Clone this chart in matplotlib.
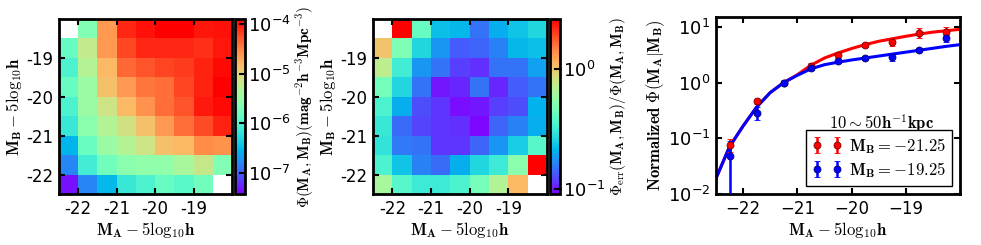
import numpy as np
import matplotlib
matplotlib.use('Agg')
import matplotlib.pyplot as plt
from matplotlib.colors import LogNorm
from matplotlib.ticker import FixedLocator, FixedFormatter, NullLocator

plt.rcParams['mathtext.fontset'] = 'cm'
plt.rcParams['axes.unicode_minus'] = False
plt.rcParams['font.family'] = 'DejaVu Sans'
plt.rcParams['font.size'] = 12

# ---------------- data ----------------
ma_centers = [-22.25, -21.75, -21.25, -20.75, -20.25, -19.75, -19.25, -18.75, -18.25]
mb_centers = [-18.25, -18.75, -19.25, -19.75, -20.25, -20.75, -21.25, -21.75, -22.25]  # rows top -> bottom
bin_half = 0.25

# log10 Phi(MA, MB) [mag^-2 h^-3 Mpc^-3]; NaN = empty bin
log_phi = [
    [np.nan, -5.66, -4.62, -4.08, -3.98, -3.88, -3.91, -4.01, -3.98],
    [-5.84, -5.20, -4.62, -4.22, -4.08, -4.08, -4.08, -4.12, -4.01],
    [-6.01, -5.31, -4.82, -4.38, -4.28, -4.21, -4.17, -4.06, -3.95],
    [-5.84, -5.48, -4.86, -4.62, -4.44, -4.40, -4.21, -4.06, -3.86],
    [-6.01, -5.48, -5.13, -4.82, -4.60, -4.40, -4.28, -4.02, -3.95],
    [-6.15, -5.59, -5.31, -5.10, -4.86, -4.62, -4.40, -4.24, -4.06],
    [-6.54, -5.80, -5.48, -5.31, -5.13, -4.86, -4.82, -4.55, -4.60],
    [-6.79, -6.08, -5.77, -5.59, -5.55, -5.55, -5.38, -5.17, -5.66],
    [-7.35, -6.79, -6.50, -6.15, -6.01, -5.84, -5.91, -5.77, np.nan],
]

# log10 of relative error Phi_err / Phi
log_rel_err = [
    [np.nan, 0.416, -0.386, -0.648, -0.663, -0.823, -0.692, -0.634, -0.575],
    [0.008, -0.313, -0.575, -0.750, -0.867, -0.852, -0.794, -0.663, -0.648],
    [-0.138, -0.488, -0.750, -0.823, -0.925, -0.955, -0.823, -0.823, -0.721],
    [-0.342, -0.575, -0.823, -0.998, -0.969, -0.823, -0.969, -0.867, -0.823],
    [-0.459, -0.692, -0.896, -0.940, -1.013, -0.998, -0.925, -0.896, -0.677],
    [-0.517, -0.838, -0.911, -0.940, -0.955, -1.027, -0.852, -0.794, -0.692],
    [-0.532, -0.809, -0.823, -0.940, -0.940, -0.852, -0.750, -0.605, -0.430],
    [-0.459, -0.634, -0.794, -0.838, -0.692, -0.575, -0.503, -0.284, 0.416],
    [-0.196, -0.430, -0.503, -0.503, -0.459, -0.342, -0.167, 0.037, np.nan],
]

phi_lim = (3.8e-8, 1.25e-4)
err_lim = (0.091, 2.6)
phi_ticks = [1e-7, 1e-6, 1e-5, 1e-4]
phi_ticklabels = [r'$\mathdefault{10^{-7}}$', r'$\mathdefault{10^{-6}}$',
                  r'$\mathdefault{10^{-5}}$', r'$\mathdefault{10^{-4}}$']
err_ticks = [0.1, 1.0]
err_ticklabels = [r'$\mathdefault{10^{-1}}$', r'$\mathdefault{10^{0}}$']

mag_ticks = [-22, -21, -20, -19]
heat_ticklabels = ['-22', '-21', '-20', '-19']
cond_ticklabels = ['\u221222', '\u221221', '\u221220', '\u221219']

# conditional LF, normalized, at MA bin centres
cond_x = ma_centers
red_phi = [0.077, 0.46, 1.0, 2.02, 3.1, 4.75, 5.4, 7.8, 8.0]
red_err = [0.021, 0.055, 0.1, 0.2, 0.35, 0.45, 0.95, 1.6, 2.0]
blue_phi = [0.048, 0.285, 1.0, 1.86, 2.48, 2.78, 2.85, 3.9, 6.2]
blue_err = [0.04, 0.075, 0.08, 0.15, 0.2, 0.2, 0.4, 0.3, 0.9]

# fitted curves
fit_x = [-22.5, -22.25, -22.0, -21.75, -21.5, -21.25, -21.0, -20.75, -20.5, -20.25,
         -20.0, -19.75, -19.5, -19.25, -19.0, -18.75, -18.5, -18.25, -18.0]
red_fit_log = [-1.72, -1.15, -0.78, -0.44, -0.18, 0.0, 0.14, 0.31, 0.44, 0.53,
               0.61, 0.68, 0.74, 0.785, 0.83, 0.87, 0.905, 0.93, 0.955]
blue_fit_log = [-1.72, -1.15, -0.78, -0.44, -0.18, 0.0, 0.13, 0.245, 0.32, 0.365,
                0.405, 0.44, 0.475, 0.51, 0.545, 0.58, 0.615, 0.65, 0.68]

red_label = r'$\mathbf{M_B=-21.25}$'
blue_label = r'$\mathbf{M_B=-19.25}$'
range_text = r'$\mathbf{10\sim50h^{-1}kpc}$'

# ---------------- figure ----------------
W, H = 981, 245
fig = plt.figure(figsize=(W / 100, H / 100), dpi=100)


def px_axes(x0, y0, x1, y1):
    return fig.add_axes([x0 / W, 1 - y1 / H, (x1 - x0) / W, (y1 - y0) / H])


def style_axes(ax):
    for s in ax.spines.values():
        s.set_linewidth(2)
    ax.tick_params(direction='in', top=True, right=True, length=4, width=1.5,
                   labelsize=12, pad=4)
    ax.tick_params(which='minor', length=0)


xlabel = r'$\mathbf{M_A}-5\mathrm{log}_{10}\mathbf{h}$'
ylabel = r'$\mathbf{M_B}-5\mathrm{log}_{10}\mathbf{h}$'

xe = np.array([c - bin_half for c in ma_centers] + [ma_centers[-1] + bin_half])
ye = np.array([c + bin_half for c in mb_centers] + [mb_centers[-1] - bin_half])


def heatmap(box, cbox, data, lims, cticks, cticklabels, clabel, clabelpad):
    ax = px_axes(*box)
    vals = np.ma.masked_invalid(10 ** np.array(data))
    m = ax.pcolormesh(xe, ye, vals, cmap='rainbow',
                      norm=LogNorm(vmin=lims[0], vmax=lims[1]))
    ax.set_xlim(-22.5, -18)
    ax.set_ylim(-22.5, -18)
    ax.set_xticks(mag_ticks)
    ax.set_xticklabels(heat_ticklabels)
    ax.set_yticks(mag_ticks)
    ax.set_yticklabels(heat_ticklabels)
    style_axes(ax)
    ax.set_xlabel(xlabel, fontsize=12, labelpad=2)
    ax.set_ylabel(ylabel, fontsize=12, labelpad=2)
    cax = px_axes(*cbox)
    cb = fig.colorbar(m, cax=cax)
    cb.outline.set_linewidth(2)
    cax.yaxis.set_major_locator(FixedLocator(cticks))
    cax.yaxis.set_major_formatter(FixedFormatter(cticklabels))
    cax.yaxis.set_minor_locator(NullLocator())
    cax.tick_params(direction='in', length=4, width=1.5, labelsize=13, pad=2)
    cb.set_label(clabel, fontsize=11, labelpad=clabelpad)
    return ax


heatmap((59, 19, 232, 194), (235, 19, 245, 194), log_phi, phi_lim,
        phi_ticks, phi_ticklabels,
        r'$\Phi(\mathbf{M_A,M_B})(\mathbf{mag^{-2}h^{-3}Mpc^{-3}})$', 2)
heatmap((373, 19, 547, 194), (550, 19, 560, 194), log_rel_err, err_lim,
        err_ticks, err_ticklabels,
        r'$\Phi_{\mathrm{err}}(\mathbf{M_A,M_B})/\Phi(\mathbf{M_A,M_B})$', 2)

# ---- right panel ----
ax = px_axes(716, 17, 960, 194)
ax.plot(fit_x, 10 ** np.array(red_fit_log), color='red', lw=2.2, zorder=1)
ax.plot(fit_x, 10 ** np.array(blue_fit_log), color='blue', lw=2.2, zorder=1)
ax.errorbar(cond_x, red_phi, yerr=red_err, fmt='o', color='red', ms=5,
            mec='#7a0000', mew=0.6, elinewidth=1.8, capsize=2, capthick=1.2,
            label=red_label, zorder=3)
ax.errorbar(cond_x, blue_phi, yerr=blue_err, fmt='o', color='blue', ms=5,
            mec='#00007a', mew=0.6, elinewidth=1.8, capsize=2, capthick=1.2,
            label=blue_label, zorder=3)
ax.set_yscale('log')
ax.set_xlim(-22.5, -18)
ax.set_ylim(0.01, 15)
ax.set_xticks(mag_ticks)
ax.set_xticklabels(cond_ticklabels)
ax.yaxis.set_minor_locator(NullLocator())
style_axes(ax)
ax.tick_params(axis='y', labelsize=13)
ax.set_xlabel(xlabel, fontsize=12, labelpad=2)
ax.set_ylabel(r'$\mathbf{Normalized}\ \Phi(\mathbf{M_A|M_B})$', fontsize=12, labelpad=1)
ax.text(0.68, 0.40, range_text, transform=ax.transAxes, ha='center', va='center',
        fontsize=12)
leg = ax.legend(loc='lower right', numpoints=2, fontsize=12, fancybox=False,
                edgecolor='black', framealpha=1, borderaxespad=0.5,
                handletextpad=0.4, borderpad=0.35, labelspacing=0.25,
                handlelength=1.8)
leg.get_frame().set_linewidth(1.0)

fig.savefig('out.png', dpi=100)
